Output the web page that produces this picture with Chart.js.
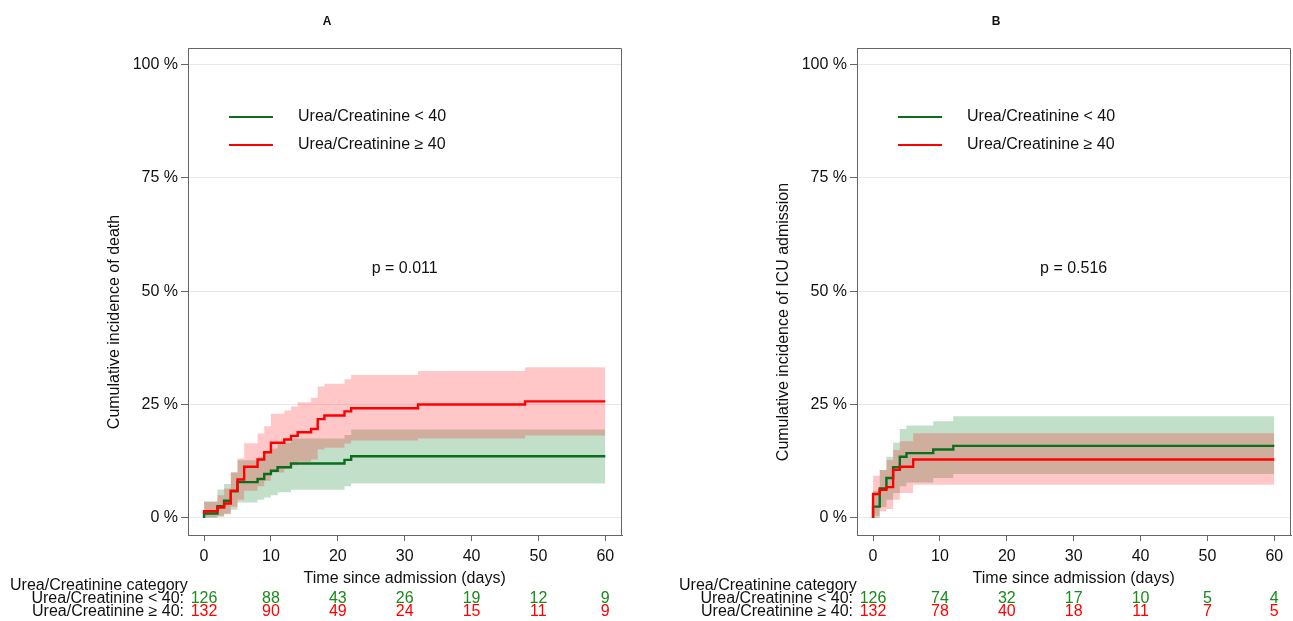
<!DOCTYPE html>
<html>
<head>
<meta charset="utf-8">
<script src="https://cdn.jsdelivr.net/npm/chart.js@4"></script>
<style>
  html, body { margin: 0; padding: 0; background: #fff; overflow: hidden; width: 1293px; height: 621px; }
  canvas { position: absolute; top: 0; }
  #chartA { left: 0; }
  #chartB { left: 669px; }
</style>
</head>
<body>
<canvas id="chartA" width="646" height="621"></canvas>
<canvas id="chartB" width="624" height="621"></canvas>
<script>
'use strict';

// shared axis ticks
const xTicks = [0, 10, 20, 30, 40, 50, 60];
const yTicks = [0, 25, 50, 75, 100];
const groupLabels = ['Urea/Creatinine < 40', 'Urea/Creatinine \u2265 40'];

// panel A: death, Urea/Creatinine < 40
const timeA_lo = [0, 2, 3, 4, 5, 8, 9, 10, 11, 13, 21, 22, 42, 60];
const incA_lo  = [0, 1.0, 2.6, 3.8, 5.9, 7.9, 8.6, 9.7, 10.4, 11.2, 12.0, 12.8, 13.6, 13.6];
const lowA_lo  = [0, 0, 0.3, 0.8, 1.8, 3.4, 4.0, 4.5, 5.0, 5.7, 6.2, 7.0, 7.6, 7.6];
const upA_lo   = [0, 3.7, 6.3, 7.5, 10.0, 12.7, 13.5, 14.6, 15.3, 16.6, 17.5, 18.3, 19.5, 19.5];
// panel A: death, Urea/Creatinine >= 40
const timeA_hi = [0, 2, 3, 4, 5, 6, 8, 9, 10, 12, 13, 14, 16, 17, 18, 21, 22, 32, 48, 54, 60];
const incA_hi  = [0.9, 1.5, 2.3, 3.2, 6.0, 8.5, 11.3, 12.9, 14.5, 16.6, 17.3, 18.1, 18.9, 19.6, 21.8, 22.6, 23.5, 24.2, 25.0, 25.7, 25.7];
const lowA_hi  = [0, 0.2, 0.5, 1.0, 2.5, 4.0, 6.0, 7.0, 8.2, 10.0, 10.8, 11.6, 12.4, 12.9, 15.1, 15.5, 16.4, 17.1, 17.5, 18.2, 18.2];
const upA_hi   = [2.3, 3.5, 5.0, 6.5, 10.1, 13.1, 16.5, 18.6, 20.2, 23.0, 23.7, 24.6, 25.5, 26.5, 29.0, 29.6, 30.6, 31.5, 32.4, 33.2, 33.2];
const riskA_lo = [126, 88, 43, 26, 19, 12, 9];
const riskA_hi = [132, 90, 49, 24, 15, 11, 9];

// panel B: ICU admission, Urea/Creatinine < 40
const timeB_lo = [0, 1, 2, 3, 4, 5, 9, 12, 24, 60];
const incB_lo  = [0, 2.5, 6.5, 8.8, 11.2, 13.5, 14.3, 15.1, 15.9, 15.9];
const lowB_lo  = [0, 0, 2.4, 4.0, 5.5, 7.0, 7.8, 8.8, 9.7, 9.7];
const upB_lo   = [0, 6.0, 10.6, 13.5, 16.6, 19.6, 20.4, 21.3, 22.4, 22.4];
// panel B: ICU admission, Urea/Creatinine >= 40
const timeB_hi = [0, 1, 2, 3, 4, 6, 7, 60];
const incB_hi  = [0, 5.3, 6.2, 6.8, 10.6, 11.3, 12.9, 12.9];
const lowB_hi  = [0, 0.5, 1.5, 2.0, 4.0, 5.5, 7.3, 7.3];
const upB_hi   = [0, 9.3, 10.6, 12.8, 15.0, 16.9, 18.7, 18.7];
const riskB_lo = [126, 74, 32, 17, 10, 5, 4];
const riskB_hi = [132, 78, 40, 18, 11, 7, 5];

const FONT = "'Liberation Sans', Arial, sans-serif";
const GREEN = '#0a6e1e';
const RED = '#ff0000';
const GREEN_TXT = '#1a8a1a';
const GREEN_BAND = 'rgba(0, 120, 30, 0.24)';
const RED_BAND = 'rgba(255, 0, 0, 0.22)';
const NONE = 'rgba(0,0,0,0)';

function pts(xs, ys) {
  return xs.map((x, i) => ({ x: x, y: ys[i] }));
}

// draws frame, legend, p value, titles and the number-at-risk table
const decorPlugin = {
  id: 'decor',
  afterDraw(chart, args, opts) {
    const ctx = chart.ctx;
    const area = chart.chartArea;
    const xs = chart.scales.x;
    const ys = chart.scales.y;
    ctx.save();

    ctx.strokeStyle = '#666';
    ctx.lineWidth = 1;
    ctx.beginPath();
    ctx.moveTo(area.left, area.top + 0.5);
    ctx.lineTo(area.right - 0.5, area.top + 0.5);
    ctx.lineTo(area.right - 0.5, area.bottom);
    ctx.stroke();

    // panel letter
    ctx.fillStyle = '#111';
    ctx.font = 'bold 12px ' + FONT;
    ctx.textAlign = 'center';
    ctx.textBaseline = 'middle';
    ctx.fillText(opts.letter, area.left + 139, 22);

    // legend
    ctx.font = '16px ' + FONT;
    ctx.textAlign = 'left';
    [[GREEN, 117], [RED, 145]].forEach(([c, y], i) => {
      ctx.strokeStyle = c;
      ctx.lineWidth = 2;
      ctx.beginPath();
      ctx.moveTo(area.left + 41, y);
      ctx.lineTo(area.left + 85, y);
      ctx.stroke();
      ctx.fillStyle = '#111';
      ctx.fillText(groupLabels[i], area.left + 110, y);
    });

    // p value
    ctx.textAlign = 'center';
    ctx.fillText(opts.pText, xs.getPixelForValue(30), ys.getPixelForValue(55));

    // axis titles
    ctx.fillText('Time since admission (days)', xs.getPixelForValue(30), 579);
    ctx.save();
    ctx.translate(area.left - 73, 322);
    ctx.rotate(-Math.PI / 2);
    ctx.fillText(opts.yTitle, 0, 0);
    ctx.restore();

    // risk table
    ctx.textAlign = 'left';
    ctx.fillStyle = '#111';
    ctx.fillText('Urea/Creatinine category', area.left - 178, 586);
    ctx.textAlign = 'right';
    ctx.fillText(groupLabels[0] + ':', area.left - 4, 599);
    ctx.fillText(groupLabels[1] + ':', area.left - 4, 612);
    ctx.textAlign = 'center';
    xTicks.forEach((t, i) => {
      const px = xs.getPixelForValue(t);
      ctx.fillStyle = GREEN_TXT;
      ctx.fillText(String(opts.riskLo[i]), px, 599);
      ctx.fillStyle = RED;
      ctx.fillText(String(opts.riskHi[i]), px, 612);
    });
    ctx.restore();
  }
};

function buildPanel(canvasId, p) {
  const canvas = document.getElementById(canvasId);
  const areaWidth = 434;
  const base = { pointRadius: 0, stepped: 'after', borderColor: NONE, borderWidth: 0 };
  return new Chart(canvas, {
    type: 'line',
    data: {
      datasets: [
        Object.assign({}, base, { data: pts(p.tLo, p.upLo), fill: '+1', backgroundColor: GREEN_BAND, order: 4 }),
        Object.assign({}, base, { data: pts(p.tLo, p.lowLo), fill: false, order: 4 }),
        Object.assign({}, base, { data: pts(p.tHi, p.upHi), fill: '+1', backgroundColor: RED_BAND, order: 3 }),
        Object.assign({}, base, { data: pts(p.tHi, p.lowHi), fill: false, order: 3 }),
        Object.assign({}, base, { data: pts(p.tLo, p.incLo), fill: false, borderColor: GREEN, borderWidth: 2.4, order: 2 }),
        Object.assign({}, base, { data: pts(p.tHi, p.incHi), fill: false, borderColor: RED, borderWidth: 2.4, order: 1 })
      ]
    },
    options: {
      responsive: false,
      animation: false,
      events: [],
      layout: { padding: { top: 48, left: 0, bottom: 0, right: canvas.width - 188 - areaWidth } },
      plugins: {
        legend: { display: false },
        tooltip: { enabled: false },
        decor: { letter: p.letter, pText: p.pText, yTitle: p.yTitle, riskLo: p.riskLo, riskHi: p.riskHi }
      },
      scales: {
        x: {
          type: 'linear', min: -2.4, max: 62.5,
          afterBuildTicks: s => { s.ticks = xTicks.map(v => ({ value: v })); },
          afterFit: s => { s.height = 86; },
          grid: { drawOnChartArea: false, tickLength: 6, tickColor: '#666' },
          border: { color: '#666', width: 1 },
          ticks: { color: '#111', padding: 6, maxRotation: 0, font: { family: FONT, size: 16 } }
        },
        y: {
          type: 'linear', min: -3.75, max: 103.6,
          afterBuildTicks: s => { s.ticks = yTicks.map(v => ({ value: v })); },
          afterFit: s => { s.width = 188; },
          grid: { color: '#e9e9e9', tickLength: 7, tickColor: '#666' },
          border: { color: '#666', width: 1 },
          ticks: { color: '#111', padding: 3, font: { family: FONT, size: 16 }, callback: v => v + ' %' }
        }
      }
    },
    plugins: [decorPlugin]
  });
}

buildPanel('chartA', {
  letter: 'A', pText: 'p = 0.011', yTitle: 'Cumulative incidence of death',
  tLo: timeA_lo, incLo: incA_lo, lowLo: lowA_lo, upLo: upA_lo,
  tHi: timeA_hi, incHi: incA_hi, lowHi: lowA_hi, upHi: upA_hi,
  riskLo: riskA_lo, riskHi: riskA_hi
});

buildPanel('chartB', {
  letter: 'B', pText: 'p = 0.516', yTitle: 'Cumulative incidence of ICU admission',
  tLo: timeB_lo, incLo: incB_lo, lowLo: lowB_lo, upLo: upB_lo,
  tHi: timeB_hi, incHi: incB_hi, lowHi: lowB_hi, upHi: upB_hi,
  riskLo: riskB_lo, riskHi: riskB_hi
});
</script>
</body>
</html>
